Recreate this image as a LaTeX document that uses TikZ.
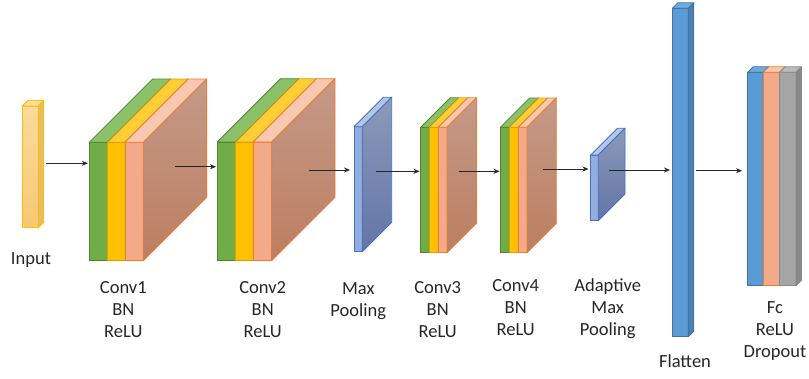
\documentclass[tikz,border=0pt]{standalone}
\usepackage{fontspec}
\setmainfont{Carlito}
\usetikzlibrary{arrows.meta,calc}

% palette
\definecolor{gFront}{HTML}{70AD47}
\definecolor{gTop}{HTML}{8CC16A}
\definecolor{gLine}{HTML}{548235}
\definecolor{yFront}{HTML}{FFC000}
\definecolor{yTop}{HTML}{FFCE36}
\definecolor{yLine}{HTML}{D9A000}
\definecolor{pFront}{HTML}{F2AA88}
\definecolor{pTop}{HTML}{F8C8B2}
\definecolor{oLine}{HTML}{ED7D31}
\definecolor{brTop}{HTML}{C49A87}
\definecolor{brBot}{HTML}{BC7E61}
\definecolor{inFrontT}{HTML}{FADA9C}
\definecolor{inFrontB}{HTML}{F7C874}
\definecolor{inTop}{HTML}{FBDDA2}
\definecolor{inSide}{HTML}{E8BC62}
\definecolor{inLine}{HTML}{FFC000}
\definecolor{mpFront}{HTML}{93ADDE}
\definecolor{mpTop}{HTML}{B4C7E7}
\definecolor{mpSideT}{HTML}{8A9BBA}
\definecolor{mpSideB}{HTML}{6474A6}
\definecolor{mpLine}{HTML}{4472C4}
\definecolor{fbFront}{HTML}{5B9BD5}
\definecolor{fbTop}{HTML}{70A9DD}
\definecolor{fbSide}{HTML}{4A80B4}
\definecolor{fbLine}{HTML}{41719C}
\definecolor{grFront}{HTML}{A5A5A5}
\definecolor{grTop}{HTML}{BABABA}
\definecolor{grSide}{HTML}{888888}
\definecolor{grLine}{HTML}{8A8A8A}

\tikzset{
  arr/.style={-{Stealth[length=6pt,width=5pt]}, line width=0.6pt, draw=black!85},
  lbl/.style={align=center, font=\fontsize{18.5}{22}\selectfont, text=black!85, inner sep=0pt},
  faceline/.style={line width=0.8pt, line join=round},
  brownside/.style={top color=brTop, bottom color=brBot},
  mpside/.style={top color=mpSideT, bottom color=mpSideB},
  inside/.style={fill=inSide},
  fbside/.style={fill=fbSide},
  grside/.style={fill=grSide},
}

% one slab: x0, x1, ytop, ybot, depth, front fill, top fill, side style, line colour
\newcommand{\slab}[9]{%
  \path[faceline, draw=#9, fill=#6] (#1,#3) rectangle (#2,#4);
  \path[faceline, draw=#9, fill=#7] (#1,#3) -- ({#1+#5},{#3-#5}) -- ({#2+#5},{#3-#5}) -- (#2,#3) -- cycle;
  \path[faceline, draw=#9, #8] (#2,#3) -- ({#2+#5},{#3-#5}) -- ({#2+#5},{#4-#5}) -- (#2,#4) -- cycle;
}
% conv block: green / yellow / salmon slabs
\newcommand{\convblock}[7]{% x0 x1 x2 x3 ytop ybot depth
  \slab{#1}{#2}{#5}{#6}{#7}{gFront}{gTop}{fill=gFront}{gLine}
  \slab{#2}{#3}{#5}{#6}{#7}{yFront}{yTop}{fill=yFront}{yLine}
  \slab{#3}{#4}{#5}{#6}{#7}{pFront}{pTop}{brownside}{oLine}
}

\begin{document}
\begin{tikzpicture}[x=1pt, y=-1pt]
\useasboundingbox (0,0) rectangle (809,378);

% input
\path[faceline, draw=inLine, top color=inFrontT, bottom color=inFrontB] (22.3,106) rectangle (38.3,227.7);
\path[faceline, draw=inLine, fill=inTop] (22.3,106) -- (27.8,100.5) -- (43.8,100.5) -- (38.3,106) -- cycle;
\path[faceline, draw=inLine, inside] (38.3,106) -- (43.8,100.5) -- (43.8,222.2) -- (38.3,227.7) -- cycle;

% conv blocks
\convblock{89.3}{107.7}{125}{143.3}{142.3}{260.7}{63.3}
\convblock{217.3}{235.7}{253.3}{271.7}{142}{260.7}{63.3}
\convblock{420.7}{429.3}{438.3}{447}{127.3}{252.7}{29.5}
\convblock{500.3}{509.3}{518.3}{527}{127.3}{252.7}{29.3}

% pooling
\slab{354}{362.3}{126.7}{251.7}{29.4}{mpFront}{mpTop}{mpside}{mpLine}
\slab{590.7}{598.3}{155}{220.7}{26.7}{mpFront}{mpTop}{mpside}{mpLine}

% flatten
\slab{672.3}{688.3}{8.3}{336.7}{5.5}{fbFront}{fbTop}{fbside}{fbLine}

% fully connected
\slab{747.7}{763.3}{72.3}{285.7}{5.5}{fbFront}{fbTop}{fbside}{fbLine}
\slab{763.3}{779.7}{72.3}{285.7}{5.5}{pFront}{pTop}{fill=pFront}{oLine}
\slab{779.7}{796}{72.3}{285.7}{5.5}{grFront}{grTop}{grside}{grLine}

% connector ends
\coordinate (in-o)  at (45.7,163.3);
\coordinate (c1-i)  at (87.8,163.3);
\coordinate (c1-o)  at (175,166.7);
\coordinate (c2-i)  at (216,166.7);
\coordinate (c2-o)  at (309,170);
\coordinate (mp-i)  at (350,170);
\coordinate (mp-o)  at (376,171.3);
\coordinate (c3-i)  at (419.5,171.3);
\coordinate (c3-o)  at (459,171.3);
\coordinate (c4-i)  at (499.5,171.3);
\coordinate (c4-o)  at (543,169);
\coordinate (amp-i) at (588.5,169);
\coordinate (amp-o) at (609.3,170);
\coordinate (fl-i)  at (670,170);
\coordinate (fl-o)  at (696,170.7);
\coordinate (fc-i)  at (742,170.7);

\draw[arr] (in-o) -- (c1-i);
\draw[arr] (c1-o) -- (c2-i);
\draw[arr] (c2-o) -- (mp-i);
\draw[arr] (mp-o) -- (c3-i);
\draw[arr] (c3-o) -- (c4-i);
\draw[arr] (c4-o) -- (amp-i);
\draw[arr] (amp-o) -- (fl-i);
\draw[arr] (fl-o) -- (fc-i);

% labels
\node[lbl] (t-in)   at (31,260)      {Input};
\node[lbl] (t-c1)   at (123.3,309.7) {Conv1\\BN\\ReLU};
\node[lbl] (t-c2)   at (262.7,309.7) {Conv2\\BN\\ReLU};
\node[lbl] (t-mp)   at (358.3,300.7) {Max\\Pooling};
\node[lbl] (t-c3)   at (437.7,309.3) {Conv3\\BN\\ReLU};
\node[lbl] (t-c4)   at (515.7,307.7) {Conv4\\BN\\ReLU};
\node[lbl] (t-amp)  at (607.7,308.5) {Adaptive\\Max\\Pooling};
\node[lbl] (t-fl)   at (685,361.2)   {Flatten};
\node[lbl] (t-fc)   at (775,330.7)   {Fc\\ReLU\\Dropout};
\end{tikzpicture}
\end{document}
